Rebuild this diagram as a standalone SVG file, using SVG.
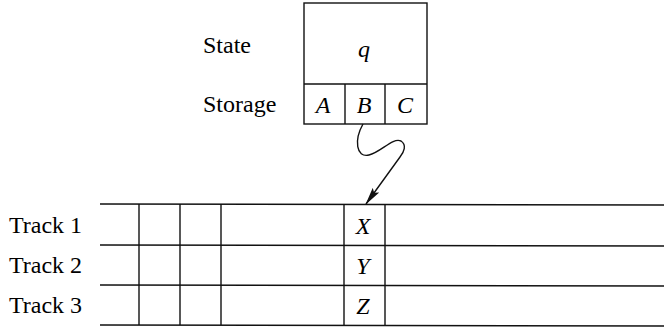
<svg xmlns="http://www.w3.org/2000/svg" width="664" height="329" viewBox="0 0 664 329">
<defs>
<marker id="ah" viewBox="0 0 18 10" refX="17" refY="5" markerWidth="18" markerHeight="10" markerUnits="userSpaceOnUse" orient="auto">
<path d="M0,1 L18,5 L0,9 L3,5 Z" fill="#111"/>
</marker>
</defs>
<rect width="664" height="329" fill="#fff"/>
<text x="203" y="53" font-family="Times New Roman" font-size="24">State</text>
<text x="203" y="112" font-family="Times New Roman" font-size="24">Storage</text>
<text x="9" y="233" font-family="Times New Roman" font-size="24">Track 1</text>
<text x="9" y="273" font-family="Times New Roman" font-size="24">Track 2</text>
<text x="9" y="313" font-family="Times New Roman" font-size="24">Track 3</text>
<g id="control">
<g stroke="#111" stroke-width="1.4" fill="none">
<rect x="304" y="3" width="123" height="121"/>
<line x1="304" y1="84" x2="427" y2="84"/>
<line x1="345" y1="84" x2="345" y2="124"/>
<line x1="385" y1="84" x2="385" y2="124"/>
</g>
<text x="364" y="57" font-family="Times New Roman" font-size="24" font-style="italic" text-anchor="middle">q</text>
<text x="323" y="113" font-family="Times New Roman" font-size="24" font-style="italic" text-anchor="middle">A</text>
<text x="364" y="113" font-family="Times New Roman" font-size="24" font-style="italic" text-anchor="middle">B</text>
<text x="405" y="113" font-family="Times New Roman" font-size="24" font-style="italic" text-anchor="middle">C</text>
</g>
<g id="tape">
<g stroke="#111" stroke-width="1.4" fill="none">
<line x1="100" y1="204" x2="664" y2="205"/>
<line x1="100" y1="245" x2="664" y2="246"/>
<line x1="100" y1="285" x2="664" y2="286"/>
<line x1="100" y1="325" x2="664" y2="326"/>
<line x1="139" y1="204" x2="139" y2="325"/>
<line x1="180" y1="204" x2="180" y2="325"/>
<line x1="221" y1="204" x2="221" y2="325"/>
<line x1="344" y1="204" x2="344" y2="325"/>
<line x1="385" y1="204" x2="385" y2="325"/>
</g>
<text x="363" y="234" font-family="Times New Roman" font-size="24" font-style="italic" text-anchor="middle">X</text>
<text x="363" y="274" font-family="Times New Roman" font-size="24" font-style="italic" text-anchor="middle">Y</text>
<text x="363" y="314" font-family="Times New Roman" font-size="24" font-style="italic" text-anchor="middle">Z</text>
</g>
<g id="connectors">
<path d="M363,124 C354,140 356,158 369,155 C381,152 393,137 401,141 C407,145 404,152 400,157 L366,204" stroke="#111" stroke-width="1.4" fill="none" marker-end="url(#ah)"/>
</g>
</svg>
